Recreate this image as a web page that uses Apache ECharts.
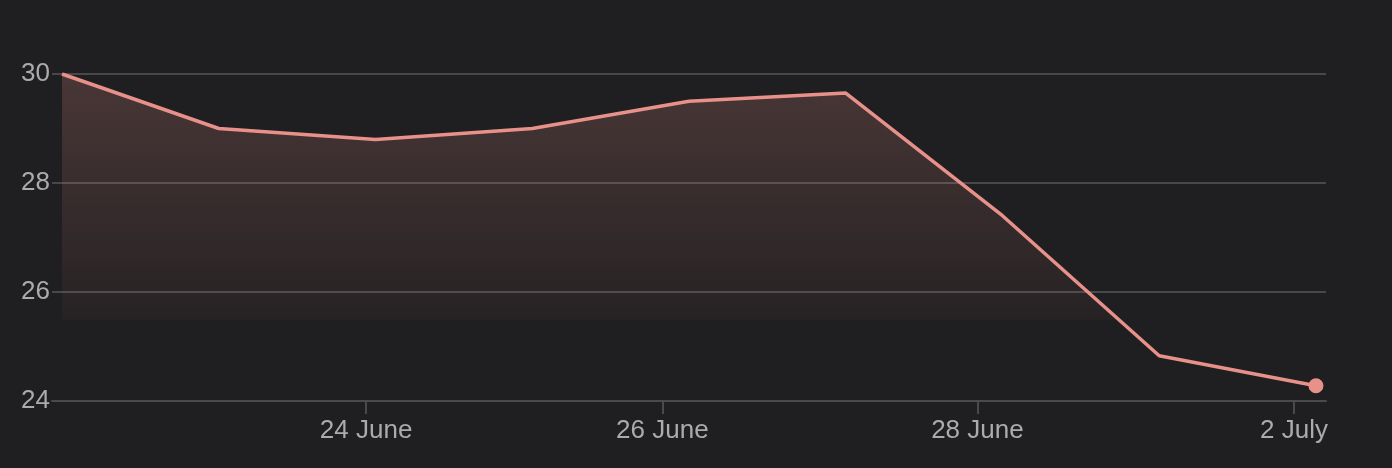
<!DOCTYPE html>
<html>
<head>
<meta charset="utf-8">
<script src="https://cdn.jsdelivr.net/npm/echarts@6/dist/echarts.min.js"></script>
<style>
html,body{margin:0;padding:0;background:#1f1e20;}
#chart{width:1392px;height:468px;}
</style>
</head>
<body>
<div id="chart"></div>
<script>
// Data
var pointIndex = [0, 1, 2, 3, 4, 5, 6, 7, 8];
var values = [30.0, 29.0, 28.8, 29.0, 29.5, 29.65, 27.4, 24.83, 24.28];
var tickPositions = [1.94, 3.83, 5.84, 7.86];
var tickLabels = ['24 June', '26 June', '28 June', '2 July'];
var yTicks = [24, 26, 28, 30];

var lineColor = '#e8918a';
var seriesData = pointIndex.map(function (x, i) {
  var item = { value: [x, values[i]] };
  if (i === pointIndex.length - 1) {
    item.symbol = 'circle';
    item.symbolSize = 15;
  }
  return item;
});

var chart = echarts.init(document.getElementById('chart'), null, { renderer: 'canvas' });
chart.setOption({
  backgroundColor: '#1f1e20',
  animation: false,
  textStyle: { fontFamily: 'Liberation Sans, Arial, sans-serif' },
  grid: { left: 52, right: 66, top: 74, bottom: 67, containLabel: false },
  xAxis: {
    type: 'value',
    min: -0.064,
    max: 8.064,
    splitLine: { show: false },
    axisLine: { show: true, lineStyle: { color: '#4a4a4d', width: 2 } },
    axisTick: {
      show: true,
      customValues: tickPositions,
      length: 13,
      lineStyle: { color: '#4a4a4d', width: 2 }
    },
    axisLabel: {
      customValues: tickPositions,
      formatter: function (v) {
        for (var i = 0; i < tickPositions.length; i++) {
          if (Math.abs(tickPositions[i] - v) < 1e-6) return tickLabels[i];
        }
        return '';
      },
      color: '#ababad',
      fontSize: 26,
      lineHeight: 26,
      margin: 17,
      fontFamily: 'Liberation Sans, Arial, sans-serif'
    }
  },
  yAxis: {
    type: 'value',
    min: yTicks[0],
    max: yTicks[yTicks.length - 1],
    interval: 2,
    axisLine: { show: false },
    axisTick: { show: false },
    splitLine: { show: true, lineStyle: { color: '#48484b', width: 2 } },
    axisLabel: {
      color: '#ababad',
      fontSize: 26,
      margin: 2,
      fontFamily: 'Liberation Sans, Arial, sans-serif'
    }
  },
  series: [{
    type: 'line',
    data: seriesData,
    symbol: 'none',
    showSymbol: true,
    itemStyle: { color: lineColor },
    lineStyle: { color: lineColor, width: 3.5 },
    areaStyle: {
      origin: 'start',
      color: {
        type: 'linear', x: 0, y: 0, x2: 0, y2: 1,
        colorStops: [
          { offset: 0, color: 'rgba(232,145,138,0.3)' },
          { offset: 0.75, color: 'rgba(232,145,138,0.05)' },
          { offset: 0.752, color: 'rgba(232,145,138,0)' },
          { offset: 1, color: 'rgba(232,145,138,0)' }
        ]
      }
    },
    emphasis: { disabled: true }
  }]
});
</script>
</body>
</html>
